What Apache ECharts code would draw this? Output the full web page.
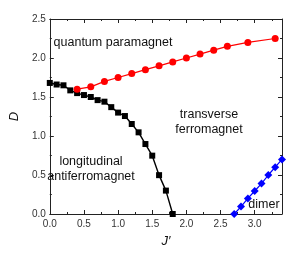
<!DOCTYPE html>
<html>
<head>
<meta charset="utf-8">
<script src="https://cdn.jsdelivr.net/npm/echarts@6/dist/echarts.min.js"></script>
<style>html,body{margin:0;padding:0;background:#fff}#c{width:299px;height:260px}</style>
</head>
<body>
<div id="c"></div>
<script>
var blackX = [0.0,0.1,0.2,0.3,0.4,0.5,0.6,0.7,0.8,0.9,1.0,1.1,1.2,1.3,1.4,1.5,1.6,1.7,1.8];
var blackY = [1.68,1.66,1.65,1.585,1.55,1.525,1.50,1.46,1.44,1.37,1.30,1.256,1.154,1.047,0.897,0.748,0.498,0.30,0.0];
var redX = [0.4,0.6,0.8,1.0,1.2,1.4,1.6,1.8,2.0,2.2,2.4,2.6,2.9,3.3];
var redY = [1.60,1.63,1.70,1.75,1.80,1.85,1.90,1.95,2.00,2.05,2.10,2.15,2.20,2.25];
var blueX = [2.7,2.8,2.9,3.0,3.1,3.2,3.3,3.4];
var blueY = [0.0,0.095,0.2,0.295,0.39,0.5,0.6,0.7];
var xTicks = [0.0,0.5,1.0,1.5,2.0,2.5,3.0];
var yTicks = [0.0,0.5,1.0,1.5,2.0,2.5];
var regionLabels = [
  {text:'quantum paramagnet', x:113, y:43},
  {text:'transverse\nferromagnet', x:209, y:122},
  {text:'longitudinal\nantiferromagnet', x:91, y:169},
  {text:'dimer', x:264, y:205}
];

function zip(a,b){return a.map(function(v,i){return [v,b[i]];});}
var FONT = '"Liberation Sans", Arial, sans-serif';
var chart = echarts.init(document.getElementById('c'));
function axisCommon(show){
  return {
    type:'value', min:0,
    interval:0.5,
    axisLine:{show:true,onZero:false,lineStyle:{color:'#222',width:1}},
    axisTick:{show:true,inside:true,length:4,lineStyle:{color:'#222'}},
    minorTick:{show:true,splitNumber:2,length:2,lineStyle:{color:'#222'}},
    splitLine:{show:false},
    axisLabel:{show:show,color:'#333',fontSize:10,fontFamily:FONT,
      showMaxLabel:false,
      formatter:function(v){return v.toFixed(1);}}
  };
}
var x0 = axisCommon(true); x0.max=3.4; x0.position='bottom';
x0.axisLabel.margin=5;
x0.name='J′'; x0.nameLocation='middle'; x0.nameGap=21;
x0.nameTextStyle={fontFamily:FONT,fontStyle:'italic',fontSize:13,color:'#111'};
var x1 = axisCommon(false); x1.max=3.4; x1.position='top';
var y0 = axisCommon(true); y0.max=2.5; y0.position='left'; y0.axisLabel.showMaxLabel=true; y0.axisLabel.margin=4;
y0.name='D'; y0.nameLocation='middle'; y0.nameGap=26;
y0.nameTextStyle={fontFamily:FONT,fontStyle:'italic',fontSize:13,color:'#111'};
var y1 = axisCommon(false); y1.max=2.5; y1.position='right';

chart.setOption({
  animation:false,
  grid:{left:41,right:17,top:19,bottom:46},
  xAxis:[x0,x1],
  yAxis:[y0,y1],
  graphic: regionLabels.map(function(r){
    return {type:'text', x:r.x, y:r.y, z:100,
      style:{text:r.text, align:'center', verticalAlign:'middle',
        font:'12.5px '+FONT, fill:'#111', lineHeight:15}};
  }),
  series:[
    {type:'line', data:zip(blackX,blackY), symbol:'rect', symbolSize:6,
     lineStyle:{color:'#000',width:1.4}, itemStyle:{color:'#000'}, clip:false},
    {type:'line', data:zip(redX,redY), symbol:'circle', symbolSize:7,
     lineStyle:{color:'#ff0000',width:1.2}, itemStyle:{color:'#ff0000'}, clip:false},
    {type:'line', data:zip(blueX,blueY), symbol:'diamond', symbolSize:8,
     lineStyle:{color:'#0000ff',width:1.2}, itemStyle:{color:'#0000ff'}, clip:true}
  ]
});
</script>
</body>
</html>
